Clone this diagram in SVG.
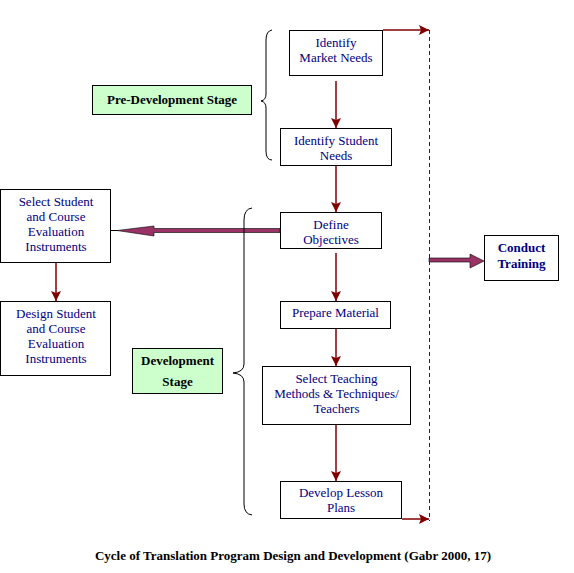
<svg xmlns="http://www.w3.org/2000/svg" width="574" height="573" viewBox="0 0 574 573">
<style>
.box{fill:#fff;stroke:#000;stroke-width:1}
.stage{fill:#ccffcc;stroke:#000;stroke-width:1}
.t{font-family:"Liberation Serif","Times New Roman",serif;font-size:13px;fill:#000080;text-anchor:middle}
.b{font-family:"Liberation Serif","Times New Roman",serif;font-size:13px;font-weight:bold;fill:#000;text-anchor:middle}
.bn{font-family:"Liberation Serif","Times New Roman",serif;font-size:13px;font-weight:bold;fill:#000080;text-anchor:middle}
.c{fill:none;stroke:#800000;stroke-width:1.5}
.brace{fill:none;stroke:#000;stroke-width:1}
.thick{fill:#993366;stroke:#000;stroke-width:0.6}
</style>
<defs>
<marker id="ah" markerUnits="userSpaceOnUse" markerWidth="10" markerHeight="10" refX="10" refY="5" orient="auto">
<path d="M0,0 L10,5 L0,10 L2,5 z" fill="#800000"/>
</marker>
</defs>
<rect width="574" height="573" fill="#fff"/>
<g id="connectors">
<line class="c" x1="336" y1="81" x2="336" y2="128" marker-end="url(#ah)"/>
<line class="c" x1="336" y1="166" x2="336" y2="212" marker-end="url(#ah)"/>
<line class="c" x1="336" y1="253" x2="336" y2="301" marker-end="url(#ah)"/>
<line class="c" x1="336" y1="329" x2="336" y2="366" marker-end="url(#ah)"/>
<line class="c" x1="336" y1="425" x2="336" y2="481" marker-end="url(#ah)"/>
<line class="c" x1="56" y1="263" x2="56" y2="301" marker-end="url(#ah)"/>
<line class="c" x1="383" y1="30" x2="429" y2="30" marker-end="url(#ah)"/>
<line class="c" x1="402" y1="519" x2="429" y2="519" marker-end="url(#ah)"/>
<line x1="429.5" y1="30" x2="429.5" y2="521" stroke="#800000" stroke-width="1" stroke-dasharray="4,3"/>
<line x1="111" y1="230.5" x2="118" y2="230.5" stroke="#000" stroke-width="1"/>
<polygon class="thick" points="117,230.5 154,226 154,228.5 280,228.5 280,232.5 154,232.5 154,236"/>
<polygon class="thick" points="429,258 470,258 470,254 484,261 470,268 470,262 429,262"/>
</g>
<g id="brace-pre"><path class="brace" d="M272,30 Q266,31 266,40 L266,94 Q266,100 261,101 Q266,102 266,108 L266,151 Q266,160 272,160"/></g>
<g id="brace-dev"><path class="brace" d="M252,208 Q244,209 244,220 L244,364 Q244,372 233,373 Q244,374 244,382 L244,504 Q244,514 252,515"/></g>
<g id="pre-stage"><rect class="stage" x="92.5" y="85.5" width="159" height="29"/><text class="b" x="172" y="104">Pre-Development Stage</text></g>
<g id="dev-stage"><rect class="stage" x="132.5" y="348.5" width="90" height="45"/><text class="b" x="177.5" y="365">Development</text><text class="b" x="177.5" y="386">Stage</text></g>
<g id="market"><rect class="box" x="289.5" y="30.5" width="93" height="45"/><text class="t" x="336" y="47">Identify</text><text class="t" x="336" y="62">Market Needs</text></g>
<g id="student"><rect class="box" x="280.5" y="128.5" width="111" height="37"/><text class="t" x="336" y="145">Identify Student</text><text class="t" x="336" y="160">Needs</text></g>
<g id="objectives"><rect class="box" x="280.5" y="212.5" width="101" height="36"/><text class="t" x="331" y="229">Define</text><text class="t" x="331" y="244">Objectives</text></g>
<g id="material"><rect class="box" x="280.5" y="301.5" width="110" height="27"/><text class="t" x="335.5" y="317">Prepare Material</text></g>
<g id="teaching"><rect class="box" x="262.5" y="366.5" width="148" height="58"/><text class="t" x="336.5" y="383">Select Teaching</text><text class="t" x="336.5" y="398">Methods &amp; Techniques/</text><text class="t" x="336.5" y="413">Teachers</text></g>
<g id="lesson"><rect class="box" x="280.5" y="481.5" width="121" height="37"/><text class="t" x="341" y="497">Develop Lesson</text><text class="t" x="341" y="512">Plans</text></g>
<g id="select-eval"><rect class="box" x="0.5" y="189.5" width="110" height="73"/><text class="t" x="56" y="206">Select Student</text><text class="t" x="56" y="221">and Course</text><text class="t" x="56" y="236">Evaluation</text><text class="t" x="56" y="251">Instruments</text></g>
<g id="design-eval"><rect class="box" x="0.5" y="301.5" width="110" height="74"/><text class="t" x="56" y="318">Design Student</text><text class="t" x="56" y="333">and Course</text><text class="t" x="56" y="348">Evaluation</text><text class="t" x="56" y="363">Instruments</text></g>
<g id="training"><rect class="box" x="484.5" y="235.5" width="74" height="45"/><text class="bn" x="521.5" y="252">Conduct</text><text class="bn" x="521.5" y="268">Training</text></g>
<text class="b" x="293" y="560">Cycle of Translation Program Design and Development (Gabr 2000, 17)</text>
</svg>
